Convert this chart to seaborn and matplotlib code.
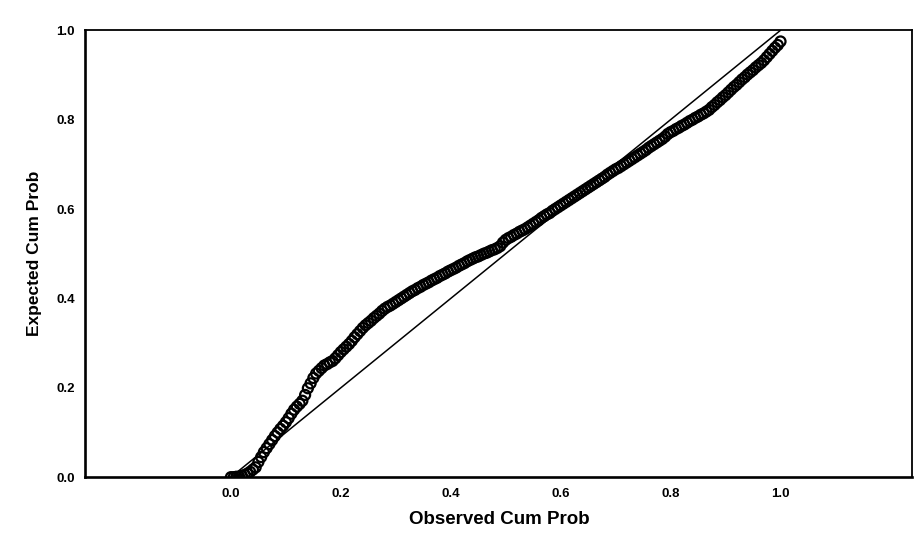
import numpy as np
import pandas as pd
import matplotlib
matplotlib.use("Agg")
import matplotlib.pyplot as plt
import seaborn as sns

# P-P plot values
observed = [
    0.000, 0.005, 0.010, 0.015, 0.020, 0.025, 0.030, 0.035, 0.040, 0.045,
    0.050, 0.055, 0.060, 0.065, 0.070, 0.075, 0.080, 0.085, 0.090, 0.095,
    0.100, 0.105, 0.110, 0.115, 0.120, 0.125, 0.130, 0.135, 0.140, 0.145,
    0.150, 0.155, 0.160, 0.165, 0.170, 0.175, 0.180, 0.185, 0.190, 0.195,
    0.200, 0.205, 0.210, 0.215, 0.220, 0.225, 0.230, 0.235, 0.240, 0.245,
    0.250, 0.255, 0.260, 0.265, 0.270, 0.275, 0.280, 0.285, 0.290, 0.295,
    0.300, 0.305, 0.310, 0.315, 0.320, 0.325, 0.330, 0.335, 0.340, 0.345,
    0.350, 0.355, 0.360, 0.365, 0.370, 0.375, 0.380, 0.385, 0.390, 0.395,
    0.400, 0.405, 0.410, 0.415, 0.420, 0.425, 0.430, 0.435, 0.440, 0.445,
    0.450, 0.455, 0.460, 0.465, 0.470, 0.475, 0.480, 0.485, 0.490, 0.495,
    0.500, 0.505, 0.510, 0.515, 0.520, 0.525, 0.530, 0.535, 0.540, 0.545,
    0.550, 0.555, 0.560, 0.565, 0.570, 0.575, 0.580, 0.585, 0.590, 0.595,
    0.600, 0.605, 0.610, 0.615, 0.620, 0.625, 0.630, 0.635, 0.640, 0.645,
    0.650, 0.655, 0.660, 0.665, 0.670, 0.675, 0.680, 0.685, 0.690, 0.695,
    0.700, 0.705, 0.710, 0.715, 0.720, 0.725, 0.730, 0.735, 0.740, 0.745,
    0.750, 0.755, 0.760, 0.765, 0.770, 0.775, 0.780, 0.785, 0.790, 0.795,
    0.800, 0.805, 0.810, 0.815, 0.820, 0.825, 0.830, 0.835, 0.840, 0.845,
    0.850, 0.855, 0.860, 0.865, 0.870, 0.875, 0.880, 0.885, 0.890, 0.895,
    0.900, 0.905, 0.910, 0.915, 0.920, 0.925, 0.930, 0.935, 0.940, 0.945,
    0.950, 0.955, 0.960, 0.965, 0.970, 0.975, 0.980, 0.985, 0.990, 0.995,
    1.000,
]
expected = [
    0.000, 0.000, 0.001, 0.001, 0.003, 0.005, 0.008, 0.012, 0.017, 0.022,
    0.034, 0.045, 0.056, 0.065, 0.074, 0.083, 0.092, 0.100, 0.108, 0.115,
    0.123, 0.132, 0.142, 0.151, 0.158, 0.164, 0.171, 0.184, 0.199, 0.210,
    0.222, 0.232, 0.238, 0.244, 0.250, 0.253, 0.257, 0.260, 0.266, 0.273,
    0.280, 0.286, 0.292, 0.298, 0.305, 0.313, 0.320, 0.327, 0.334, 0.340,
    0.345, 0.350, 0.356, 0.361, 0.366, 0.372, 0.377, 0.381, 0.384, 0.388,
    0.392, 0.396, 0.400, 0.404, 0.408, 0.412, 0.416, 0.419, 0.423, 0.426,
    0.430, 0.433, 0.436, 0.440, 0.443, 0.446, 0.450, 0.453, 0.456, 0.460,
    0.463, 0.466, 0.469, 0.473, 0.476, 0.479, 0.483, 0.486, 0.489, 0.492,
    0.494, 0.497, 0.500, 0.502, 0.505, 0.508, 0.510, 0.513, 0.517, 0.525,
    0.531, 0.535, 0.538, 0.542, 0.545, 0.549, 0.552, 0.555, 0.559, 0.563,
    0.567, 0.571, 0.575, 0.580, 0.584, 0.588, 0.591, 0.596, 0.600, 0.604,
    0.608, 0.612, 0.616, 0.620, 0.624, 0.628, 0.632, 0.636, 0.640, 0.644,
    0.648, 0.652, 0.656, 0.660, 0.664, 0.668, 0.672, 0.677, 0.681, 0.685,
    0.689, 0.692, 0.696, 0.700, 0.704, 0.708, 0.712, 0.716, 0.720, 0.724,
    0.728, 0.732, 0.737, 0.741, 0.745, 0.749, 0.753, 0.757, 0.762, 0.768,
    0.772, 0.775, 0.779, 0.782, 0.786, 0.789, 0.793, 0.797, 0.800, 0.804,
    0.807, 0.811, 0.814, 0.818, 0.822, 0.828, 0.833, 0.839, 0.844, 0.850,
    0.855, 0.861, 0.867, 0.873, 0.878, 0.884, 0.890, 0.895, 0.901, 0.906,
    0.911, 0.917, 0.922, 0.927, 0.933, 0.940, 0.947, 0.954, 0.961, 0.967,
    0.975,
]

# reference diagonal
diag_x = [0.0, 1.0]
diag_y = [0.0, 1.0]

tick_vals = [0.0, 0.2, 0.4, 0.6, 0.8, 1.0]
tick_labels = ["0.0", "0.2", "0.4", "0.6", "0.8", "1.0"]

df = pd.DataFrame({"Observed Cum Prob": observed, "Expected Cum Prob": expected})

sns.set_style("white")
plt.rcParams["font.family"] = ["Liberation Sans", "DejaVu Sans"]
plt.rcParams["text.color"] = "black"
plt.rcParams["axes.labelcolor"] = "black"

fig = plt.figure(figsize=(9.17, 5.41), dpi=100)
ax = fig.add_axes([0.093, 0.118, 0.902, 0.826])

sns.lineplot(x=diag_x, y=diag_y, ax=ax, color="black", linewidth=1.1)
sns.scatterplot(data=df, x="Observed Cum Prob", y="Expected Cum Prob", ax=ax,
                marker="o", s=52, facecolors="none", edgecolor="black",
                linewidth=1.6)

ax.set_xlim(-0.265, 1.24)
ax.set_ylim(0.0, 1.0)
ax.set_xticks(tick_vals)
ax.set_xticklabels(tick_labels)
ax.set_yticks(tick_vals)
ax.set_yticklabels(tick_labels)

for side in ["left", "bottom"]:
    ax.spines[side].set_linewidth(1.9)
for side in ["top", "right"]:
    ax.spines[side].set_linewidth(1.3)
for s in ax.spines.values():
    s.set_color("black")
    s.set_visible(True)

ax.tick_params(axis="both", direction="out", length=4, width=1.2, colors="black",
               labelsize=9.5)
for lab in ax.get_xticklabels() + ax.get_yticklabels():
    lab.set_fontweight("bold")

ax.set_xlabel("Observed Cum Prob", fontsize=13.5, fontweight="bold", labelpad=8,
              color="black")
ax.set_ylabel("Expected Cum Prob", fontsize=12.5, fontweight="bold", labelpad=10,
              color="black")

fig.savefig("out.png", dpi=100)
